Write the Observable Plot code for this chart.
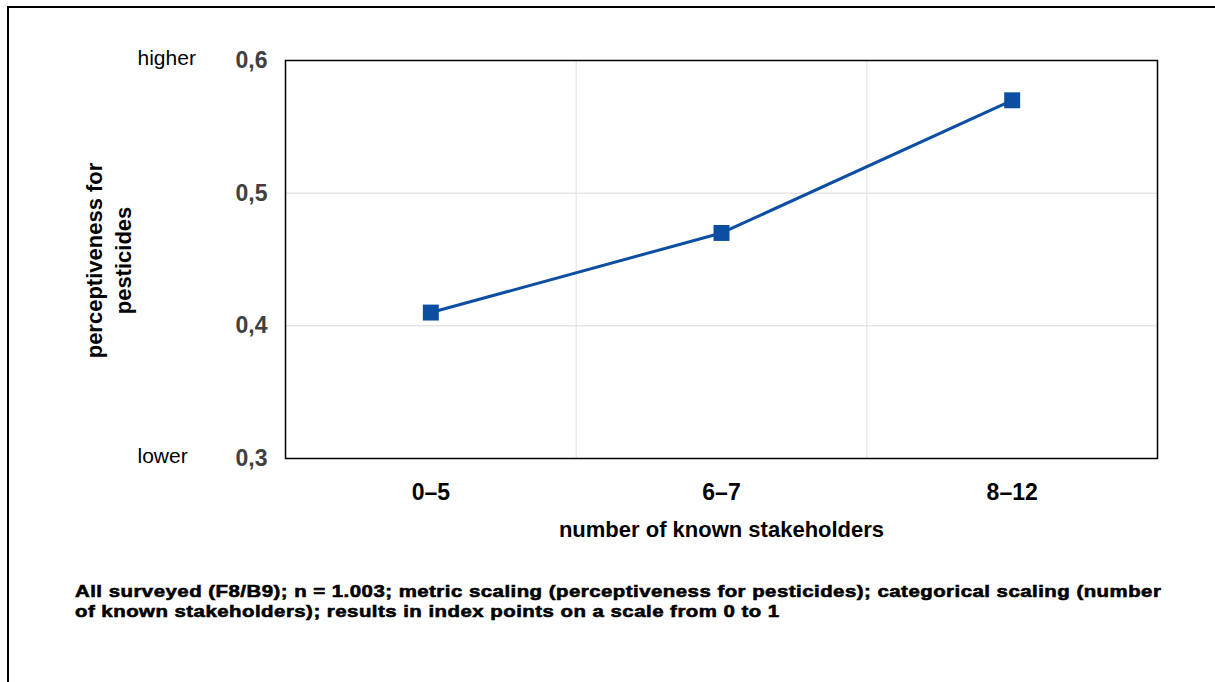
<!DOCTYPE html>
<html><head><meta charset="utf-8">
<script src="https://cdn.jsdelivr.net/npm/d3@7"></script>
<script src="https://cdn.jsdelivr.net/npm/@observablehq/plot@0.6"></script>
<style>
body{margin:0;background:#fff;}
#wrap{position:relative;width:1215px;height:682px;overflow:hidden;font-family:"Liberation Sans",Arial,sans-serif;background:#fff;}
#chart{position:absolute;left:0;top:0;}
#border{position:absolute;left:7px;top:6px;right:-10px;bottom:-10px;border-left:2px solid #000;border-top:2px solid #000;}
#caption{position:absolute;left:75px;top:582px;font-weight:bold;font-size:17px;line-height:20px;color:#000;letter-spacing:0.4px;-webkit-text-stroke:0.6px #000;white-space:nowrap;transform:scaleX(1.2);transform-origin:0 0;}
</style></head>
<body>
<div id="wrap">
<div id="chart"></div>
<div id="border"></div>
<div id="caption">All surveyed (F8/B9); n = 1.003; metric scaling (perceptiveness for pesticides); categorical scaling (number<br>of known stakeholders); results in index points on a scale from 0 to 1</div>
</div>
<script>
const categories = ["0–5", "6–7", "8–12"];
const values = [0.41, 0.47, 0.57];
const yTicks = [0.3, 0.4, 0.5, 0.6];
const yGrid = [0.4, 0.5];
const scaleEndLabels = ["higher", "lower"];
const scaleEndValues = [0.6, 0.3];
const xTitle = "number of known stakeholders";
const yTitle = "perceptiveness for\npesticides";

const data = categories.map((c, i) => ({cat: c, i: i + 0.5, v: values[i]}));
const boundaries = d3.range(1, categories.length);
const color = "#0b4ea2";
const font = "Liberation Sans, Arial, sans-serif";

const chart = Plot.plot({
  width: 1215,
  height: 560,
  marginLeft: 285,
  marginRight: 58,
  marginTop: 60,
  marginBottom: 102,
  style: {background: "transparent", fontFamily: font, overflow: "visible"},
  x: {domain: [0, categories.length], axis: null},
  y: {domain: [0.3, 0.6], axis: null},
  marks: [
    Plot.ruleY(yGrid, {stroke: "#d9d9d9", strokeWidth: 1}),
    Plot.ruleX(boundaries, {stroke: "#e0e0e0", strokeWidth: 1}),
    Plot.frame({stroke: "#000", strokeWidth: 1.5}),
    Plot.axisY(yTicks, {
      tickSize: 0, tickPadding: 18, fontSize: 23, fontWeight: "bold", fill: "#404040",
      tickFormat: d => d.toFixed(1).replace(".", ","), label: null
    }),
    Plot.axisX(data.map(d => d.i), {
      tickSize: 0, tickPadding: 25, fontSize: 23, fontWeight: "bold", fill: "#000",
      tickFormat: d => categories[Math.floor(d)], label: null
    }),
    Plot.text(scaleEndLabels, {
      y: (d, i) => scaleEndValues[i], text: d => d, frameAnchor: "left",
      textAnchor: "start", dx: -148, dy: -2, fontSize: 21, fill: "#000"
    }),
    Plot.text([yTitle], {
      frameAnchor: "left", dx: -178, dy: 1, rotate: -90, textAnchor: "middle", lineAnchor: "middle",
      lineHeight: 1.32, fontSize: 22, fontWeight: "bold", fill: "#000"
    }),
    Plot.text([xTitle], {
      frameAnchor: "bottom", dy: 71, textAnchor: "middle", lineAnchor: "middle",
      fontSize: 22, fontWeight: "bold", fill: "#000"
    }),
    Plot.line(data, {x: "i", y: "v", stroke: color, strokeWidth: 3}),
    Plot.dot(data, {x: "i", y: "v", symbol: "square", r: 9, fill: color, stroke: "none"})
  ]
});
document.getElementById("chart").appendChild(chart);
</script>
</body></html>
